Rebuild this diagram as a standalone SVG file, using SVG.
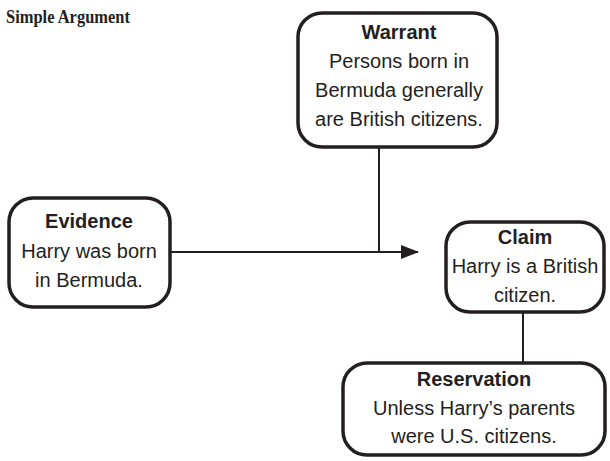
<svg xmlns="http://www.w3.org/2000/svg" width="610" height="461" viewBox="0 0 610 461">
<style>
.box{fill:#fff;stroke:#231f20;stroke-width:3.5}
.t{font-family:"Liberation Sans",Arial,sans-serif;font-size:20px;fill:#231f20;text-anchor:middle}
.h{font-weight:bold}
.c{stroke:#231f20;stroke-width:2;fill:none}
</style>
<defs>
<marker id="arr" markerWidth="18" markerHeight="14" refX="17" refY="7" orient="auto" markerUnits="userSpaceOnUse">
<path d="M0,0 L18,7 L0,14 Z" fill="#231f20"/>
</marker>
</defs>
<rect width="610" height="461" fill="#fff"/>
<text x="6" y="23" font-family="Liberation Serif,serif" font-size="18" font-weight="bold" fill="#231f20" textLength="124" lengthAdjust="spacingAndGlyphs">Simple Argument</text>
<g id="connectors">
<line class="c" x1="170" y1="252" x2="418" y2="252" marker-end="url(#arr)"/>
<line class="c" x1="379" y1="147" x2="379" y2="252"/>
<line class="c" x1="523" y1="312" x2="523" y2="363"/>
</g>
<g id="warrant">
<rect class="box" x="298" y="13" width="199" height="134" rx="24"/>
<text class="t h" x="399" y="39">Warrant</text>
<text class="t" x="399" y="68">Persons born in</text>
<text class="t" x="399" y="97">Bermuda generally</text>
<text class="t" x="399" y="126">are British citizens.</text>
</g>
<g id="evidence">
<rect class="box" x="9" y="198" width="161" height="109" rx="24"/>
<text class="t h" x="89" y="228">Evidence</text>
<text class="t" x="89" y="258">Harry was born</text>
<text class="t" x="89" y="287">in Bermuda.</text>
</g>
<g id="claim">
<rect class="box" x="446" y="222" width="158" height="90" rx="24"/>
<text class="t h" x="525" y="244">Claim</text>
<text class="t" x="525" y="273">Harry is a British</text>
<text class="t" x="525" y="302">citizen.</text>
</g>
<g id="reservation">
<rect class="box" x="343" y="363" width="262" height="92" rx="24"/>
<text class="t h" x="474" y="386">Reservation</text>
<text class="t" x="474" y="415">Unless Harry’s parents</text>
<text class="t" x="474" y="443">were U.S. citizens.</text>
</g>
</svg>
